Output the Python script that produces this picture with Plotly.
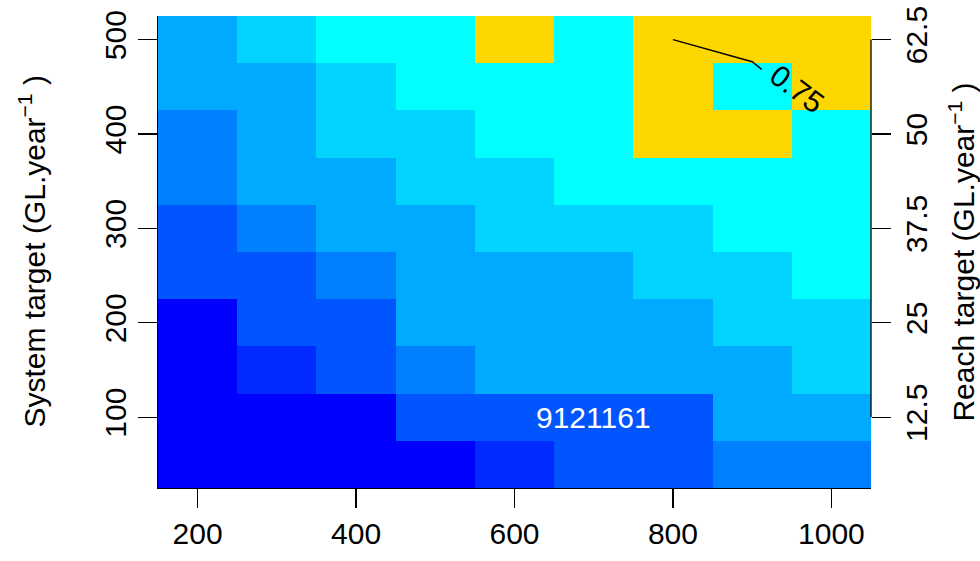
import plotly.graph_objects as go

# ---- data ----
x_centres = [200, 300, 400, 500, 600, 700, 800, 900, 1000]
y_centres = [50, 100, 150, 200, 250, 300, 350, 400, 450, 500]
# estimated values per cell (rows bottom -> top)
z_values = [
    [0.05, 0.05, 0.05, 0.05, 0.16, 0.27, 0.27, 0.37, 0.37],
    [0.05, 0.05, 0.05, 0.27, 0.27, 0.27, 0.27, 0.48, 0.48],
    [0.05, 0.16, 0.27, 0.37, 0.48, 0.48, 0.48, 0.48, 0.59],
    [0.05, 0.27, 0.27, 0.48, 0.48, 0.48, 0.48, 0.59, 0.59],
    [0.27, 0.27, 0.37, 0.48, 0.48, 0.48, 0.59, 0.59, 0.70],
    [0.27, 0.37, 0.48, 0.48, 0.59, 0.59, 0.59, 0.70, 0.70],
    [0.37, 0.48, 0.48, 0.59, 0.59, 0.70, 0.70, 0.70, 0.70],
    [0.37, 0.48, 0.59, 0.59, 0.70, 0.70, 0.80, 0.80, 0.70],
    [0.48, 0.48, 0.59, 0.70, 0.70, 0.70, 0.80, 0.70, 0.80],
    [0.48, 0.59, 0.70, 0.70, 0.80, 0.70, 0.80, 0.80, 0.80],
]
level_breaks = [0.0, 0.107, 0.214, 0.321, 0.429, 0.536, 0.643, 0.75, 1.0]
level_colours = ["#0000FF", "#002AFF", "#0055FF", "#007FFF", "#00AAFF",
                 "#00D4FF", "#00FFFF", "#FFD700"]

x_ticks = [200, 400, 600, 800, 1000]
y_ticks = [100, 200, 300, 400, 500]
reach_ticks = [12.5, 25, 37.5, 50, 62.5]
reach_labels = ["12.5", "25", "37.5", "50", "62.5"]

contour_level = 0.75
contour_x = [800, 900, 912]
contour_y = [500, 476.6, 468.4]
contour_label_pos = (956, 448)

cell_label = "9121161"
cell_label_pos = (700, 100)

FONT = "Liberation Sans, Arial, sans-serif"
FS = 30

# ---- colourscale ----
colorscale = []
for i, c in enumerate(level_colours):
    colorscale.append([level_breaks[i], c])
    colorscale.append([level_breaks[i + 1], c])

fig = go.Figure()
fig.add_trace(go.Heatmap(
    x=x_centres, y=y_centres, z=z_values,
    colorscale=colorscale, zmin=level_breaks[0], zmax=level_breaks[-1],
    showscale=False, hoverinfo="skip",
))
fig.add_trace(go.Scatter(
    x=contour_x, y=contour_y, mode="lines",
    line=dict(color="black", width=1.5), showlegend=False, hoverinfo="skip",
))
fig.add_trace(go.Scatter(x=[None], y=[None], yaxis="y2", mode="lines",
                         showlegend=False, hoverinfo="skip"))

fig.add_annotation(x=contour_label_pos[0], y=contour_label_pos[1],
                   text=str(contour_level), showarrow=False, textangle=37,
                   font=dict(family=FONT, size=FS, color="black"))
fig.add_annotation(x=cell_label_pos[0], y=cell_label_pos[1],
                   text=cell_label, showarrow=False,
                   font=dict(family=FONT, size=FS, color="white"))

# axis titles
fig.add_annotation(xref="paper", yref="paper", x=-0.176, y=0.5,
                   text="System target (GL.year<sup>−1</sup> )", textangle=-90,
                   showarrow=False, xanchor="center", yanchor="middle",
                   font=dict(family=FONT, size=FS, color="black"))
fig.add_annotation(xref="paper", yref="paper", x=1.127, y=0.5,
                   text="Reach target (GL.year<sup>−1</sup> )", textangle=-90,
                   showarrow=False, xanchor="center", yanchor="middle",
                   font=dict(family=FONT, size=FS, color="black"))

# right axis line only spans tick range
fig.add_shape(type="line", xref="paper", yref="y2", x0=1, x1=1,
              y0=reach_ticks[0], y1=reach_ticks[-1],
              line=dict(color="black", width=1.3))

axis_common = dict(ticks="outside", ticklen=19, tickwidth=1.3, tickcolor="black",
                   showgrid=False, zeroline=False, automargin=False,
                   tickfont=dict(family=FONT, size=FS, color="black"))

fig.update_layout(
    width=980, height=561,
    margin=dict(l=158, r=109, t=16, b=73, autoexpand=False),
    paper_bgcolor="white", plot_bgcolor="white",
    xaxis=dict(range=[150, 1050], tickvals=x_ticks,
               showline=True, linecolor="black", linewidth=1.3, **axis_common),
    yaxis=dict(range=[25, 525], tickvals=y_ticks, tickangle=-90,
               showline=True, linecolor="black", linewidth=1.3, **axis_common),
    yaxis2=dict(range=[25 / 8, 525 / 8], overlaying="y", side="right",
                tickvals=reach_ticks, ticktext=reach_labels, tickangle=-90,
                showline=False, **axis_common),
    showlegend=False,
)

fig.write_html("out.html",
               config={"displayModeBar": False, "staticPlot": True},
               post_script="document.body.style.margin='0';"
                           "document.body.style.overflow='hidden';")
